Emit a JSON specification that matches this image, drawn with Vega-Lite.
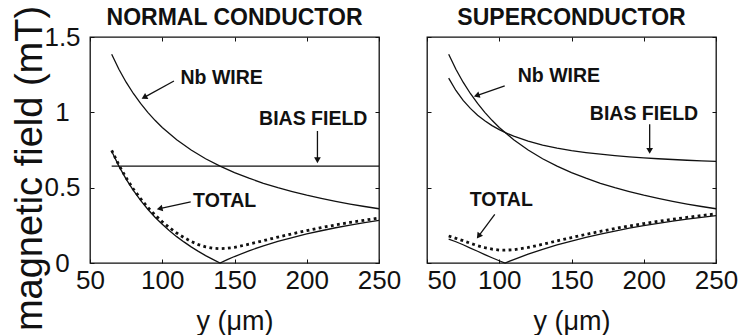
{
  "$schema": "https://vega.github.io/schema/vega-lite/v6.json",
  "background": "white",
  "padding": {"left": 10, "top": 4, "right": 0, "bottom": 0},
  "bounds": "flush",
  "spacing": 48,
  "config": {
    "view": {"stroke": "#111", "strokeWidth": 1.3},
    "font": "Liberation Sans",
    "axis": {
      "grid": false, "domain": false, "tickColor": "#111", "tickWidth": 1, "tickSize": -4,
      "labelColor": "#111", "labelFont": "Liberation Sans", "labelFontSize": 26,
      "labelFlush": false, "labelOverlap": false,
      "titleFont": "Liberation Sans", "titleFontWeight": "normal", "titleColor": "#111"
    },
    "title": {"font": "Liberation Sans", "fontSize": 23, "fontWeight": "bold", "color": "#111", "anchor": "middle", "frame": "group", "baseline": "alphabetic", "offset": 11}
  },
  "datasets": {
    "curves": [
      {"panel": "NC", "series": "Nb", "pos": 65, "field": 1.385},
      {"panel": "NC", "series": "Nb", "pos": 70, "field": 1.286},
      {"panel": "NC", "series": "Nb", "pos": 75, "field": 1.2},
      {"panel": "NC", "series": "Nb", "pos": 80, "field": 1.125},
      {"panel": "NC", "series": "Nb", "pos": 85, "field": 1.059},
      {"panel": "NC", "series": "Nb", "pos": 90, "field": 1.0},
      {"panel": "NC", "series": "Nb", "pos": 95, "field": 0.947},
      {"panel": "NC", "series": "Nb", "pos": 100, "field": 0.9},
      {"panel": "NC", "series": "Nb", "pos": 110, "field": 0.818},
      {"panel": "NC", "series": "Nb", "pos": 120, "field": 0.75},
      {"panel": "NC", "series": "Nb", "pos": 130, "field": 0.692},
      {"panel": "NC", "series": "Nb", "pos": 140, "field": 0.643},
      {"panel": "NC", "series": "Nb", "pos": 150, "field": 0.6},
      {"panel": "NC", "series": "Nb", "pos": 160, "field": 0.563},
      {"panel": "NC", "series": "Nb", "pos": 170, "field": 0.529},
      {"panel": "NC", "series": "Nb", "pos": 180, "field": 0.5},
      {"panel": "NC", "series": "Nb", "pos": 190, "field": 0.474},
      {"panel": "NC", "series": "Nb", "pos": 200, "field": 0.45},
      {"panel": "NC", "series": "Nb", "pos": 210, "field": 0.429},
      {"panel": "NC", "series": "Nb", "pos": 220, "field": 0.409},
      {"panel": "NC", "series": "Nb", "pos": 230, "field": 0.391},
      {"panel": "NC", "series": "Nb", "pos": 240, "field": 0.375},
      {"panel": "NC", "series": "Nb", "pos": 250, "field": 0.36},
      {"panel": "NC", "series": "Bias", "pos": 65, "field": 0.643},
      {"panel": "NC", "series": "Bias", "pos": 250, "field": 0.643},
      {"panel": "NC", "series": "Total", "pos": 65, "field": 0.742},
      {"panel": "NC", "series": "Total", "pos": 70, "field": 0.643},
      {"panel": "NC", "series": "Total", "pos": 75, "field": 0.557},
      {"panel": "NC", "series": "Total", "pos": 80, "field": 0.482},
      {"panel": "NC", "series": "Total", "pos": 85, "field": 0.416},
      {"panel": "NC", "series": "Total", "pos": 90, "field": 0.357},
      {"panel": "NC", "series": "Total", "pos": 95, "field": 0.304},
      {"panel": "NC", "series": "Total", "pos": 100, "field": 0.257},
      {"panel": "NC", "series": "Total", "pos": 105, "field": 0.214},
      {"panel": "NC", "series": "Total", "pos": 110, "field": 0.175},
      {"panel": "NC", "series": "Total", "pos": 115, "field": 0.14},
      {"panel": "NC", "series": "Total", "pos": 120, "field": 0.107},
      {"panel": "NC", "series": "Total", "pos": 125, "field": 0.077},
      {"panel": "NC", "series": "Total", "pos": 130, "field": 0.049},
      {"panel": "NC", "series": "Total", "pos": 135, "field": 0.024},
      {"panel": "NC", "series": "Total", "pos": 140, "field": 0},
      {"panel": "NC", "series": "Total", "pos": 145, "field": 0.022},
      {"panel": "NC", "series": "Total", "pos": 150, "field": 0.043},
      {"panel": "NC", "series": "Total", "pos": 160, "field": 0.081},
      {"panel": "NC", "series": "Total", "pos": 170, "field": 0.114},
      {"panel": "NC", "series": "Total", "pos": 180, "field": 0.143},
      {"panel": "NC", "series": "Total", "pos": 190, "field": 0.169},
      {"panel": "NC", "series": "Total", "pos": 200, "field": 0.193},
      {"panel": "NC", "series": "Total", "pos": 210, "field": 0.214},
      {"panel": "NC", "series": "Total", "pos": 220, "field": 0.234},
      {"panel": "NC", "series": "Total", "pos": 230, "field": 0.252},
      {"panel": "NC", "series": "Total", "pos": 240, "field": 0.268},
      {"panel": "NC", "series": "Total", "pos": 250, "field": 0.283},
      {"panel": "NC", "series": "Dotted", "pos": 65, "field": 0.748},
      {"panel": "NC", "series": "Dotted", "pos": 70, "field": 0.65},
      {"panel": "NC", "series": "Dotted", "pos": 75, "field": 0.565},
      {"panel": "NC", "series": "Dotted", "pos": 80, "field": 0.491},
      {"panel": "NC", "series": "Dotted", "pos": 85, "field": 0.427},
      {"panel": "NC", "series": "Dotted", "pos": 90, "field": 0.369},
      {"panel": "NC", "series": "Dotted", "pos": 95, "field": 0.319},
      {"panel": "NC", "series": "Dotted", "pos": 100, "field": 0.274},
      {"panel": "NC", "series": "Dotted", "pos": 105, "field": 0.234},
      {"panel": "NC", "series": "Dotted", "pos": 110, "field": 0.199},
      {"panel": "NC", "series": "Dotted", "pos": 115, "field": 0.169},
      {"panel": "NC", "series": "Dotted", "pos": 120, "field": 0.143},
      {"panel": "NC", "series": "Dotted", "pos": 125, "field": 0.122},
      {"panel": "NC", "series": "Dotted", "pos": 130, "field": 0.107},
      {"panel": "NC", "series": "Dotted", "pos": 135, "field": 0.098},
      {"panel": "NC", "series": "Dotted", "pos": 140, "field": 0.095},
      {"panel": "NC", "series": "Dotted", "pos": 145, "field": 0.098},
      {"panel": "NC", "series": "Dotted", "pos": 150, "field": 0.104},
      {"panel": "NC", "series": "Dotted", "pos": 160, "field": 0.125},
      {"panel": "NC", "series": "Dotted", "pos": 170, "field": 0.148},
      {"panel": "NC", "series": "Dotted", "pos": 180, "field": 0.172},
      {"panel": "NC", "series": "Dotted", "pos": 190, "field": 0.194},
      {"panel": "NC", "series": "Dotted", "pos": 200, "field": 0.215},
      {"panel": "NC", "series": "Dotted", "pos": 210, "field": 0.235},
      {"panel": "NC", "series": "Dotted", "pos": 220, "field": 0.253},
      {"panel": "NC", "series": "Dotted", "pos": 230, "field": 0.269},
      {"panel": "NC", "series": "Dotted", "pos": 240, "field": 0.284},
      {"panel": "NC", "series": "Dotted", "pos": 250, "field": 0.299},
      {"panel": "SC", "series": "Nb", "pos": 65, "field": 1.385},
      {"panel": "SC", "series": "Nb", "pos": 70, "field": 1.286},
      {"panel": "SC", "series": "Nb", "pos": 75, "field": 1.2},
      {"panel": "SC", "series": "Nb", "pos": 80, "field": 1.125},
      {"panel": "SC", "series": "Nb", "pos": 85, "field": 1.059},
      {"panel": "SC", "series": "Nb", "pos": 90, "field": 1.0},
      {"panel": "SC", "series": "Nb", "pos": 95, "field": 0.947},
      {"panel": "SC", "series": "Nb", "pos": 100, "field": 0.9},
      {"panel": "SC", "series": "Nb", "pos": 110, "field": 0.818},
      {"panel": "SC", "series": "Nb", "pos": 120, "field": 0.75},
      {"panel": "SC", "series": "Nb", "pos": 130, "field": 0.692},
      {"panel": "SC", "series": "Nb", "pos": 140, "field": 0.643},
      {"panel": "SC", "series": "Nb", "pos": 150, "field": 0.6},
      {"panel": "SC", "series": "Nb", "pos": 160, "field": 0.563},
      {"panel": "SC", "series": "Nb", "pos": 170, "field": 0.529},
      {"panel": "SC", "series": "Nb", "pos": 180, "field": 0.5},
      {"panel": "SC", "series": "Nb", "pos": 190, "field": 0.474},
      {"panel": "SC", "series": "Nb", "pos": 200, "field": 0.45},
      {"panel": "SC", "series": "Nb", "pos": 210, "field": 0.429},
      {"panel": "SC", "series": "Nb", "pos": 220, "field": 0.409},
      {"panel": "SC", "series": "Nb", "pos": 230, "field": 0.391},
      {"panel": "SC", "series": "Nb", "pos": 240, "field": 0.375},
      {"panel": "SC", "series": "Nb", "pos": 250, "field": 0.36},
      {"panel": "SC", "series": "Bias", "pos": 65, "field": 1.227},
      {"panel": "SC", "series": "Bias", "pos": 70, "field": 1.145},
      {"panel": "SC", "series": "Bias", "pos": 75, "field": 1.079},
      {"panel": "SC", "series": "Bias", "pos": 80, "field": 1.026},
      {"panel": "SC", "series": "Bias", "pos": 85, "field": 0.981},
      {"panel": "SC", "series": "Bias", "pos": 90, "field": 0.944},
      {"panel": "SC", "series": "Bias", "pos": 95, "field": 0.912},
      {"panel": "SC", "series": "Bias", "pos": 100, "field": 0.885},
      {"panel": "SC", "series": "Bias", "pos": 105, "field": 0.862},
      {"panel": "SC", "series": "Bias", "pos": 110, "field": 0.842},
      {"panel": "SC", "series": "Bias", "pos": 120, "field": 0.809},
      {"panel": "SC", "series": "Bias", "pos": 130, "field": 0.783},
      {"panel": "SC", "series": "Bias", "pos": 140, "field": 0.763},
      {"panel": "SC", "series": "Bias", "pos": 150, "field": 0.746},
      {"panel": "SC", "series": "Bias", "pos": 160, "field": 0.733},
      {"panel": "SC", "series": "Bias", "pos": 170, "field": 0.722},
      {"panel": "SC", "series": "Bias", "pos": 180, "field": 0.712},
      {"panel": "SC", "series": "Bias", "pos": 190, "field": 0.704},
      {"panel": "SC", "series": "Bias", "pos": 200, "field": 0.698},
      {"panel": "SC", "series": "Bias", "pos": 210, "field": 0.692},
      {"panel": "SC", "series": "Bias", "pos": 220, "field": 0.687},
      {"panel": "SC", "series": "Bias", "pos": 230, "field": 0.682},
      {"panel": "SC", "series": "Bias", "pos": 240, "field": 0.678},
      {"panel": "SC", "series": "Bias", "pos": 250, "field": 0.675},
      {"panel": "SC", "series": "Total", "pos": 65, "field": 0.158},
      {"panel": "SC", "series": "Total", "pos": 70, "field": 0.141},
      {"panel": "SC", "series": "Total", "pos": 75, "field": 0.121},
      {"panel": "SC", "series": "Total", "pos": 80, "field": 0.099},
      {"panel": "SC", "series": "Total", "pos": 85, "field": 0.078},
      {"panel": "SC", "series": "Total", "pos": 90, "field": 0.056},
      {"panel": "SC", "series": "Total", "pos": 95, "field": 0.035},
      {"panel": "SC", "series": "Total", "pos": 100, "field": 0.015},
      {"panel": "SC", "series": "Total", "pos": 104, "field": 0},
      {"panel": "SC", "series": "Total", "pos": 110, "field": 0.023},
      {"panel": "SC", "series": "Total", "pos": 120, "field": 0.059},
      {"panel": "SC", "series": "Total", "pos": 130, "field": 0.091},
      {"panel": "SC", "series": "Total", "pos": 140, "field": 0.12},
      {"panel": "SC", "series": "Total", "pos": 150, "field": 0.146},
      {"panel": "SC", "series": "Total", "pos": 160, "field": 0.17},
      {"panel": "SC", "series": "Total", "pos": 170, "field": 0.192},
      {"panel": "SC", "series": "Total", "pos": 180, "field": 0.212},
      {"panel": "SC", "series": "Total", "pos": 190, "field": 0.231},
      {"panel": "SC", "series": "Total", "pos": 200, "field": 0.248},
      {"panel": "SC", "series": "Total", "pos": 210, "field": 0.263},
      {"panel": "SC", "series": "Total", "pos": 220, "field": 0.278},
      {"panel": "SC", "series": "Total", "pos": 230, "field": 0.291},
      {"panel": "SC", "series": "Total", "pos": 240, "field": 0.303},
      {"panel": "SC", "series": "Total", "pos": 250, "field": 0.315},
      {"panel": "SC", "series": "Dotted", "pos": 65, "field": 0.179},
      {"panel": "SC", "series": "Dotted", "pos": 70, "field": 0.164},
      {"panel": "SC", "series": "Dotted", "pos": 75, "field": 0.148},
      {"panel": "SC", "series": "Dotted", "pos": 80, "field": 0.131},
      {"panel": "SC", "series": "Dotted", "pos": 85, "field": 0.115},
      {"panel": "SC", "series": "Dotted", "pos": 90, "field": 0.102},
      {"panel": "SC", "series": "Dotted", "pos": 95, "field": 0.092},
      {"panel": "SC", "series": "Dotted", "pos": 100, "field": 0.086},
      {"panel": "SC", "series": "Dotted", "pos": 104, "field": 0.085},
      {"panel": "SC", "series": "Dotted", "pos": 110, "field": 0.088},
      {"panel": "SC", "series": "Dotted", "pos": 120, "field": 0.103},
      {"panel": "SC", "series": "Dotted", "pos": 130, "field": 0.124},
      {"panel": "SC", "series": "Dotted", "pos": 140, "field": 0.147},
      {"panel": "SC", "series": "Dotted", "pos": 150, "field": 0.169},
      {"panel": "SC", "series": "Dotted", "pos": 160, "field": 0.19},
      {"panel": "SC", "series": "Dotted", "pos": 170, "field": 0.21},
      {"panel": "SC", "series": "Dotted", "pos": 180, "field": 0.229},
      {"panel": "SC", "series": "Dotted", "pos": 190, "field": 0.246},
      {"panel": "SC", "series": "Dotted", "pos": 200, "field": 0.262},
      {"panel": "SC", "series": "Dotted", "pos": 210, "field": 0.277},
      {"panel": "SC", "series": "Dotted", "pos": 220, "field": 0.29},
      {"panel": "SC", "series": "Dotted", "pos": 230, "field": 0.303},
      {"panel": "SC", "series": "Dotted", "pos": 240, "field": 0.315},
      {"panel": "SC", "series": "Dotted", "pos": 250, "field": 0.326}
    ],
    "labels": [
      {"panel": "NC", "label": "Nb WIRE", "pos": 141.1, "field": 1.23},
      {"panel": "NC", "label": "BIAS FIELD", "pos": 204.5, "field": 0.959},
      {"panel": "NC", "label": "TOTAL", "pos": 143.2, "field": 0.411},
      {"panel": "SC", "label": "Nb WIRE", "pos": 141.3, "field": 1.241},
      {"panel": "SC", "label": "BIAS FIELD", "pos": 200.2, "field": 0.989},
      {"panel": "SC", "label": "TOTAL", "pos": 101.4, "field": 0.415}
    ],
    "arrows": [
      {"panel": "NC", "a": "Nb", "pos": 108.1, "field": 1.208, "pos2": 87.5, "field2": 1.099},
      {"panel": "NC", "a": "Bias", "pos": 207.4, "field": 0.876, "pos2": 207.4, "field2": 0.682},
      {"panel": "NC", "a": "Total", "pos": 119.7, "field": 0.405, "pos2": 98.2, "field2": 0.361},
      {"panel": "SC", "a": "Nb", "pos": 103.8, "field": 1.175, "pos2": 84.4, "field2": 1.111},
      {"panel": "SC", "a": "Bias", "pos": 204.1, "field": 0.921, "pos2": 204.1, "field2": 0.744},
      {"panel": "SC", "a": "Total", "pos": 96.9, "field": 0.323, "pos2": 85.7, "field2": 0.178}
    ]
  },
  "hconcat": [
    {
      "title": {"text": "NORMAL CONDUCTOR", "dy": 36},
      "width": 289,
      "height": 226,
      "resolve": {"axis": {"x": "independent", "y": "independent"}},
      "layer": [
        {
          "data": {"name": "curves"},
          "transform": [{"filter": "datum.panel === 'NC' && datum.series !== 'Dotted'"}],
          "mark": {"type": "line", "stroke": "#111", "strokeWidth": 1.3},
          "encoding": {
            "x": {"field": "pos", "type": "quantitative", "scale": {"domain": [50, 250], "nice": false, "zero": false},
              "axis": {"orient": "bottom", "values": [50, 100, 150, 200, 250], "labelPadding": 8, "title": "y (μm)", "titleFontSize": 27, "titleX": 144.5, "titleY": 66, "titleAlign": "center", "titleBaseline": "alphabetic"}},
            "y": {"field": "field", "type": "quantitative", "scale": {"domain": [0, 1.5], "nice": false},
              "axis": {"orient": "left", "values": [0, 0.5, 1, 1.5], "format": "~g", "labelAlign": "center", "labelBaseline": "middle", "labelPadding": 32, "title": "magnetic field (mT)", "titleFontSize": 38, "titleAngle": 270, "titleX": -48.5, "titleY": 131, "titleAlign": "center", "titleBaseline": "alphabetic"}},
            "detail": {"field": "series"}
          }
        },
        {
          "data": {"name": "curves"},
          "transform": [{"filter": "datum.panel === 'NC' && datum.series === 'Dotted'"}],
          "mark": {"type": "line", "stroke": "#111", "strokeWidth": 2.8, "strokeDash": [2.8, 3.4]},
          "encoding": {
            "x": {"field": "pos", "type": "quantitative", "axis": {"orient": "top", "values": [50, 100, 150, 200, 250], "labels": false, "title": null}},
            "y": {"field": "field", "type": "quantitative", "axis": {"orient": "right", "values": [0, 0.5, 1, 1.5], "labels": false, "title": null}}
          }
        },
        {
          "data": {"name": "arrows"},
          "transform": [{"filter": "datum.panel === 'NC'"}],
          "mark": {"type": "rule", "stroke": "#111", "strokeWidth": 1.3},
          "encoding": {
            "x": {"field": "pos", "type": "quantitative", "axis": null},
            "y": {"field": "field", "type": "quantitative", "axis": null},
            "x2": {"field": "pos2"},
            "y2": {"field": "field2"}
          }
        },
        {
          "data": {"name": "arrows"},
          "transform": [{"filter": "datum.panel === 'NC' && datum.a === 'Nb'"}],
          "mark": {"type": "point", "shape": "triangle-up", "filled": true, "size": 45, "angle": 241, "color": "#111", "opacity": 1},
          "encoding": {
            "x": {"field": "pos2", "type": "quantitative", "axis": null},
            "y": {"field": "field2", "type": "quantitative", "axis": null}
          }
        },
        {
          "data": {"name": "arrows"},
          "transform": [{"filter": "datum.panel === 'NC' && datum.a === 'Bias'"}],
          "mark": {"type": "point", "shape": "triangle-up", "filled": true, "size": 45, "angle": 180, "color": "#111", "opacity": 1},
          "encoding": {
            "x": {"field": "pos2", "type": "quantitative", "axis": null},
            "y": {"field": "field2", "type": "quantitative", "axis": null}
          }
        },
        {
          "data": {"name": "arrows"},
          "transform": [{"filter": "datum.panel === 'NC' && datum.a === 'Total'"}],
          "mark": {"type": "point", "shape": "triangle-up", "filled": true, "size": 45, "angle": 258, "color": "#111", "opacity": 1},
          "encoding": {
            "x": {"field": "pos2", "type": "quantitative", "axis": null},
            "y": {"field": "field2", "type": "quantitative", "axis": null}
          }
        },
        {
          "data": {"name": "labels"},
          "transform": [{"filter": "datum.panel === 'NC'"}],
          "mark": {"type": "text", "font": "Liberation Sans", "fontSize": 19.5, "fontWeight": "bold", "color": "#111", "align": "center", "baseline": "middle"},
          "encoding": {
            "x": {"field": "pos", "type": "quantitative", "axis": null},
            "y": {"field": "field", "type": "quantitative", "axis": null},
            "text": {"field": "label"}
          }
        }
      ]
    },
    {
      "title": {"text": "SUPERCONDUCTOR", "dy": 4},
      "width": 289,
      "height": 226,
      "resolve": {"axis": {"x": "independent", "y": "independent"}},
      "layer": [
        {
          "data": {"name": "curves"},
          "transform": [{"filter": "datum.panel === 'SC' && datum.series !== 'Dotted'"}],
          "mark": {"type": "line", "stroke": "#111", "strokeWidth": 1.3},
          "encoding": {
            "x": {"field": "pos", "type": "quantitative", "scale": {"domain": [50, 250], "nice": false, "zero": false},
              "axis": {"orient": "bottom", "values": [50, 100, 150, 200, 250], "labelPadding": 8, "labelAlign": {"condition": {"test": "datum.value === 50", "value": "left"}, "value": "center"}, "title": "y (μm)", "titleFontSize": 27, "titleX": 144.5, "titleY": 66, "titleAlign": "center", "titleBaseline": "alphabetic"}},
            "y": {"field": "field", "type": "quantitative", "scale": {"domain": [0, 1.5], "nice": false},
              "axis": {"orient": "left", "values": [0, 0.5, 1, 1.5], "labels": false, "title": null}},
            "detail": {"field": "series"}
          }
        },
        {
          "data": {"name": "curves"},
          "transform": [{"filter": "datum.panel === 'SC' && datum.series === 'Dotted'"}],
          "mark": {"type": "line", "stroke": "#111", "strokeWidth": 2.8, "strokeDash": [2.8, 3.4]},
          "encoding": {
            "x": {"field": "pos", "type": "quantitative", "axis": {"orient": "top", "values": [50, 100, 150, 200, 250], "labels": false, "title": null}},
            "y": {"field": "field", "type": "quantitative", "axis": {"orient": "right", "values": [0, 0.5, 1, 1.5], "labels": false, "title": null}}
          }
        },
        {
          "data": {"name": "arrows"},
          "transform": [{"filter": "datum.panel === 'SC'"}],
          "mark": {"type": "rule", "stroke": "#111", "strokeWidth": 1.3},
          "encoding": {
            "x": {"field": "pos", "type": "quantitative", "axis": null},
            "y": {"field": "field", "type": "quantitative", "axis": null},
            "x2": {"field": "pos2"},
            "y2": {"field": "field2"}
          }
        },
        {
          "data": {"name": "arrows"},
          "transform": [{"filter": "datum.panel === 'SC' && datum.a === 'Nb'"}],
          "mark": {"type": "point", "shape": "triangle-up", "filled": true, "size": 45, "angle": 251, "color": "#111", "opacity": 1},
          "encoding": {
            "x": {"field": "pos2", "type": "quantitative", "axis": null},
            "y": {"field": "field2", "type": "quantitative", "axis": null}
          }
        },
        {
          "data": {"name": "arrows"},
          "transform": [{"filter": "datum.panel === 'SC' && datum.a === 'Bias'"}],
          "mark": {"type": "point", "shape": "triangle-up", "filled": true, "size": 45, "angle": 180, "color": "#111", "opacity": 1},
          "encoding": {
            "x": {"field": "pos2", "type": "quantitative", "axis": null},
            "y": {"field": "field2", "type": "quantitative", "axis": null}
          }
        },
        {
          "data": {"name": "arrows"},
          "transform": [{"filter": "datum.panel === 'SC' && datum.a === 'Total'"}],
          "mark": {"type": "point", "shape": "triangle-up", "filled": true, "size": 45, "angle": 216, "color": "#111", "opacity": 1},
          "encoding": {
            "x": {"field": "pos2", "type": "quantitative", "axis": null},
            "y": {"field": "field2", "type": "quantitative", "axis": null}
          }
        },
        {
          "data": {"name": "labels"},
          "transform": [{"filter": "datum.panel === 'SC'"}],
          "mark": {"type": "text", "font": "Liberation Sans", "fontSize": 19.5, "fontWeight": "bold", "color": "#111", "align": "center", "baseline": "middle"},
          "encoding": {
            "x": {"field": "pos", "type": "quantitative", "axis": null},
            "y": {"field": "field", "type": "quantitative", "axis": null},
            "text": {"field": "label"}
          }
        }
      ]
    }
  ]
}
